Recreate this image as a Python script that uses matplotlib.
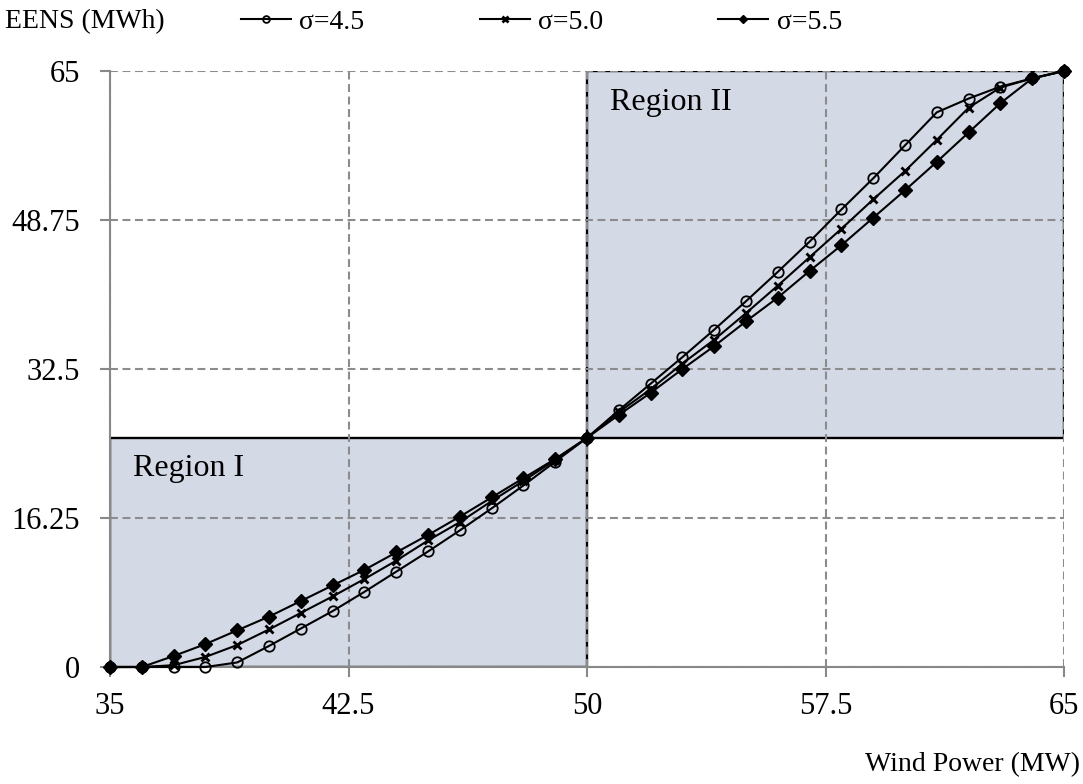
import matplotlib.pyplot as plt
from matplotlib.patches import Rectangle

plt.rcParams['font.family'] = ['Liberation Serif', 'DejaVu Serif']

# wind power (MW) and EENS (MWh) for three values of sigma
wind = [35, 36, 37, 38, 39, 40, 41, 42, 43, 44, 45, 46, 47, 48, 49, 50,
        51, 52, 53, 54, 55, 56, 57, 58, 59, 60, 61, 62, 63, 64, 65]
eens_45 = [0, 0, 0, 0, 0.5, 2.3, 4.2, 6.1, 8.2, 10.4, 12.6, 14.9, 17.3, 19.8, 22.4, 25,
           28.0, 30.9, 33.8, 36.8, 39.9, 43.1, 46.4, 49.9, 53.3, 56.9, 60.5, 62.0, 63.3, 64.2, 65]
eens_50 = [0, 0, 0.2, 1.1, 2.4, 4.1, 5.9, 7.7, 9.6, 11.6, 13.8, 15.8, 18.1, 20.3, 22.6, 25,
           27.8, 30.3, 33.1, 35.7, 38.6, 41.6, 44.7, 47.8, 51.0, 54.1, 57.5, 61.0, 63.2, 64.2, 65]
eens_55 = [0, 0, 1.2, 2.5, 4.0, 5.5, 7.2, 8.9, 10.6, 12.5, 14.4, 16.4, 18.5, 20.6, 22.7, 25,
           27.5, 29.9, 32.5, 35.0, 37.7, 40.3, 43.2, 46.0, 49.0, 52.0, 55.1, 58.3, 61.5, 64.2, 65]

x_ticks = [35, 42.5, 50, 57.5, 65]
x_tick_labels = ['35', '42.5', '50', '57.5', '65']
y_ticks = [0, 16.25, 32.5, 48.75, 65]
y_tick_labels = ['0', '16.25', '32.5', '48.75', '65']

fig = plt.figure(figsize=(10.83, 7.84), dpi=100)
ax = fig.add_axes([0.1016, 0.1492, 0.8809, 0.7602])

# shaded regions below / above the 50 MW, 25 MWh point
region_color = '#D4DAE5'
ax.add_patch(Rectangle((35, 0), 15, 25, facecolor=region_color, edgecolor='black',
                       linewidth=1.7, zorder=1))
ax.add_patch(Rectangle((50, 25), 15, 40, facecolor=region_color, edgecolor='black',
                       linewidth=1.7, zorder=1))

ax.plot(wind, eens_45, color='black', lw=1.5, marker='o', ms=7.5, mfc='none',
        mec='black', mew=1.3, label='σ=4.5', clip_on=False, zorder=3)
ax.plot(wind, eens_50, color='black', lw=1.5, marker='x', ms=6, mew=2,
        label='σ=5.0', clip_on=False, zorder=3)
ax.plot(wind, eens_55, color='black', lw=1.5, marker='D', ms=7, mfc='black',
        mec='black', label='σ=5.5', clip_on=False, zorder=3)

ax.text(35.72, 20.8, 'Region I', fontsize=23, va='baseline', ha='left', zorder=4)
ax.text(50.72, 60.8, 'Region II', fontsize=23, va='baseline', ha='left', zorder=4)

ax.set_xlim(35, 65)
ax.set_ylim(0, 65)
ax.set_xticks(x_ticks)
ax.set_xticklabels(x_tick_labels)
ax.set_yticks(y_ticks)
ax.set_yticklabels(y_tick_labels)
ax.tick_params(labelsize=22, direction='out', length=7, width=1.5, color='#888888')
ax.tick_params(axis='y', pad=14.5)
ax.tick_params(axis='x', pad=11)

ax.grid(True, color='#8c8c8c', linestyle=(0, (3.8, 2.2)), linewidth=1.5)
for side in ['top', 'right']:
    ax.spines[side].set_visible(False)
for side in ['left', 'bottom']:
    ax.spines[side].set_color('#888888')
    ax.spines[side].set_linewidth(1.5)

fig.text(5 / 1083, 0.972, 'EENS (MWh)', fontsize=20, va='center', ha='left')
fig.text(1080 / 1083, 0.0245, 'Wind Power (MW)', fontsize=20, va='center', ha='right')

fig.legend(loc='center left', bbox_to_anchor=(241 / 1083, 0.972), ncol=3, frameon=False,
           fontsize=20, handlelength=1.8, handletextpad=0.3, columnspacing=4.15,
           markerscale=0.65, borderaxespad=0, borderpad=0)

fig.savefig('out.png', dpi=100)
plt.close()
